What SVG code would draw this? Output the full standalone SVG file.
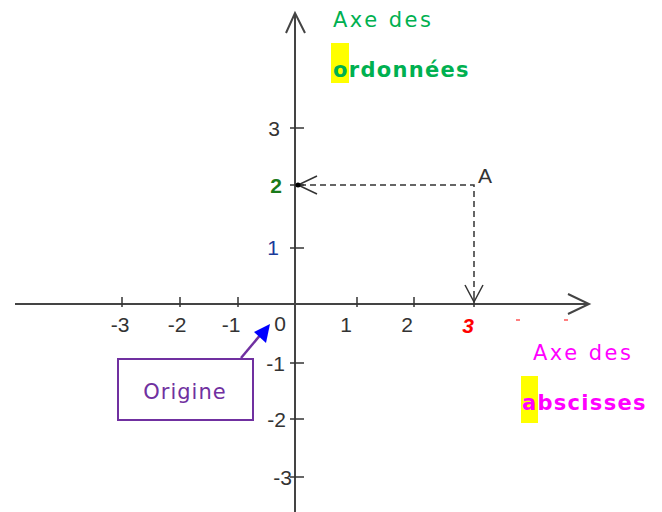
<svg xmlns="http://www.w3.org/2000/svg" width="662" height="512" viewBox="0 0 662 512">
<style>
.ax{stroke:#444;stroke-width:2;fill:none}
.tk{stroke:#333;stroke-width:1.5}
.dash{stroke:#333;stroke-width:1.5;stroke-dasharray:6,4;fill:none}
.num{font-family:"Liberation Sans",Arial,sans-serif;font-size:21px;fill:#333}
.tt{font-family:"DejaVu Sans",Verdana,sans-serif;font-size:21px;letter-spacing:2.5px}
.bd{font-weight:bold;letter-spacing:1.3px}
</style>
<rect width="662" height="512" fill="#fff"/>
<g id="connectors">
<line class="ax" x1="15" y1="304" x2="589" y2="304"/>
<polyline class="ax" points="568,294 589,304 568,314"/>
<line class="ax" x1="295" y1="512" x2="295" y2="13"/>
<polyline class="ax" points="286,33 295,13 305,33"/>
<g class="tk">
<line x1="122" y1="297" x2="122" y2="307"/><line x1="180" y1="297" x2="180" y2="307"/><line x1="238" y1="297" x2="238" y2="307"/>
<line x1="357" y1="297" x2="357" y2="307"/><line x1="414" y1="297" x2="414" y2="307"/><line x1="474" y1="297" x2="474" y2="307"/>
<line x1="290" y1="128" x2="304" y2="128"/><line x1="290" y1="185" x2="304" y2="185"/><line x1="290" y1="248" x2="304" y2="248"/>
<line x1="290" y1="363" x2="304" y2="363"/><line x1="290" y1="419" x2="304" y2="419"/><line x1="290" y1="477" x2="304" y2="477"/>
</g>
<polyline class="dash" points="300,185 474,185 474,302"/>
<polyline fill="none" stroke="#333" stroke-width="1.5" points="317,176 298,185 317,194"/>
<polyline fill="none" stroke="#333" stroke-width="1.5" points="465,285 474,302 483,285"/>
<circle cx="298" cy="185" r="2.5" fill="#000"/>
<line x1="241" y1="358" x2="262" y2="333" stroke="#7030A0" stroke-width="2.5"/>
<polygon points="270,324 266,343 254,332" fill="#0000FF"/>
<line x1="516" y1="320" x2="520" y2="320" stroke="#f00" stroke-width="1"/>
<line x1="564" y1="320" x2="568" y2="320" stroke="#f00" stroke-width="1"/>
</g>
<g id="x-labels" class="num">
<text x="120" y="332" text-anchor="middle">-3</text>
<text x="177" y="332" text-anchor="middle">-2</text>
<text x="231" y="332" text-anchor="middle">-1</text>
<text x="280" y="331" text-anchor="middle">0</text>
<text x="346" y="332" text-anchor="middle">1</text>
<text x="407" y="332" text-anchor="middle">2</text>
<text x="468" y="333" text-anchor="middle" style="fill:#f00;font-weight:bold;font-style:italic">3</text>
</g>
<g id="y-labels" class="num">
<text x="280" y="136" text-anchor="end">3</text>
<text x="282" y="193" text-anchor="end" style="fill:#1a7a1a;font-weight:bold">2</text>
<text x="279" y="255" text-anchor="end" style="fill:#1a3a9a">1</text>
<text x="285" y="371" text-anchor="end">-1</text>
<text x="286" y="427" text-anchor="end">-2</text>
<text x="292" y="485" text-anchor="end">-3</text>
</g>
<g id="point-A"><text class="num" x="478" y="183">A</text></g>
<g id="ordonnees">
<rect x="331" y="43" width="18" height="40" fill="#ffff00"/>
<text class="tt" x="333" y="27" fill="#00B050">Axe des</text>
<text class="tt bd" x="333" y="77" fill="#00B050">ordonnées</text>
</g>
<g id="abscisses">
<rect x="521" y="376" width="17" height="47" fill="#ffff00"/>
<text class="tt" x="533" y="360" fill="#FF00FF">Axe des</text>
<text class="tt bd" x="522" y="410" fill="#FF00FF">abscisses</text>
</g>
<g id="origine">
<rect x="118" y="359" width="135" height="61" fill="#fff" stroke="#7030A0" stroke-width="2"/>
<text x="185" y="399" text-anchor="middle" font-family="DejaVu Sans,Verdana,sans-serif" font-size="21" fill="#7030A0" letter-spacing="1">Origine</text>
</g>
</svg>
